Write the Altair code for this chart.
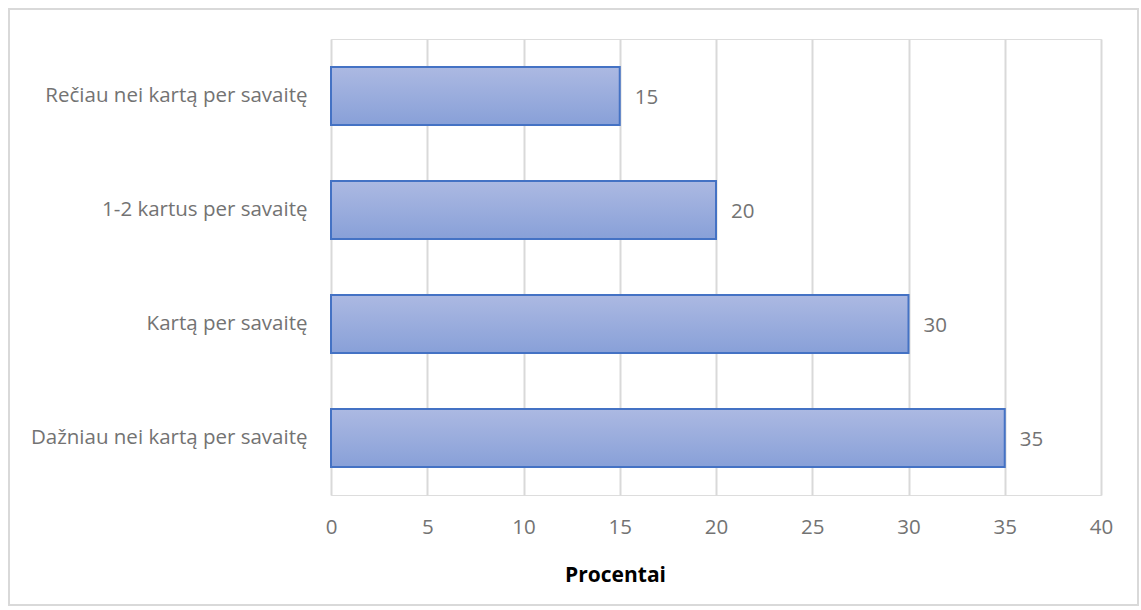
import altair as alt
import pandas as pd

categories = ["Rečiau nei kartą per savaitę", "1-2 kartus per savaitę", "Kartą per savaitę", "Dažniau nei kartą per savaitę"]
values = [15, 20, 30, 35]
x_ticks = [0, 5, 10, 15, 20, 25, 30, 35, 40]

df = pd.DataFrame({"cat": categories, "val": values})

W, H = 770, 456
FONT = "Open Sans"
FS = 20.5
TXT = "#737373"

base = alt.Chart(df)

x_enc = alt.X("val:Q", scale=alt.Scale(domain=[0, 40], nice=False),
              axis=alt.Axis(values=x_ticks, title="Procentai", grid=True, gridColor="#d9d9d9", gridWidth=2,
                            domain=False, ticks=False, labelColor=TXT, labelFontSize=FS, labelFont=FONT,
                            labelPadding=22, labelFlush=False, titleFont=FONT, titleFontSize=21,
                            titleFontWeight="bold", titleColor="#000000", titleX=284, titleY=86,
                            titleAlign="center", titleBaseline="alphabetic"))
y_enc = alt.Y("cat:N", sort=categories, scale=alt.Scale(paddingInner=0.49, paddingOuter=0.245),
              axis=alt.Axis(title=None, domain=False, ticks=False, labelColor=TXT, labelFontSize=FS,
                            labelFont=FONT, labelPadding=24, labelLimit=400))

bars = base.mark_bar(
    color=alt.LinearGradient(gradient="linear", x1=0, y1=0, x2=0, y2=1,
                             stops=[alt.GradientStop(color="#acb9e2", offset=0),
                                    alt.GradientStop(color="#88a0d8", offset=1)]),
    stroke="#4472c4", strokeWidth=2
).encode(x=x_enc, y=y_enc)

labels = base.mark_text(align="left", baseline="middle", dx=15, dy=2, fontSize=FS, font=FONT, color=TXT).encode(
    x="val:Q", y=alt.Y("cat:N", sort=categories), text="val:Q")

frame = alt.Chart(pd.DataFrame({"a": [0]})).mark_rect(fill=None, stroke="#d9d9d9", strokeWidth=2).encode(
    x=alt.value(-322), x2=alt.value(807), y=alt.value(-30), y2=alt.value(566))

chart = alt.layer(frame, bars, labels).properties(
    width=W, height=H,
    autosize=alt.AutoSizeParams(type="none"),
    padding={"left": 331, "top": 39, "right": 40, "bottom": 115},
).configure_view(stroke=None).configure(background="white")

chart.save("out.html", embed_options={"renderer": "svg", "actions": False})
